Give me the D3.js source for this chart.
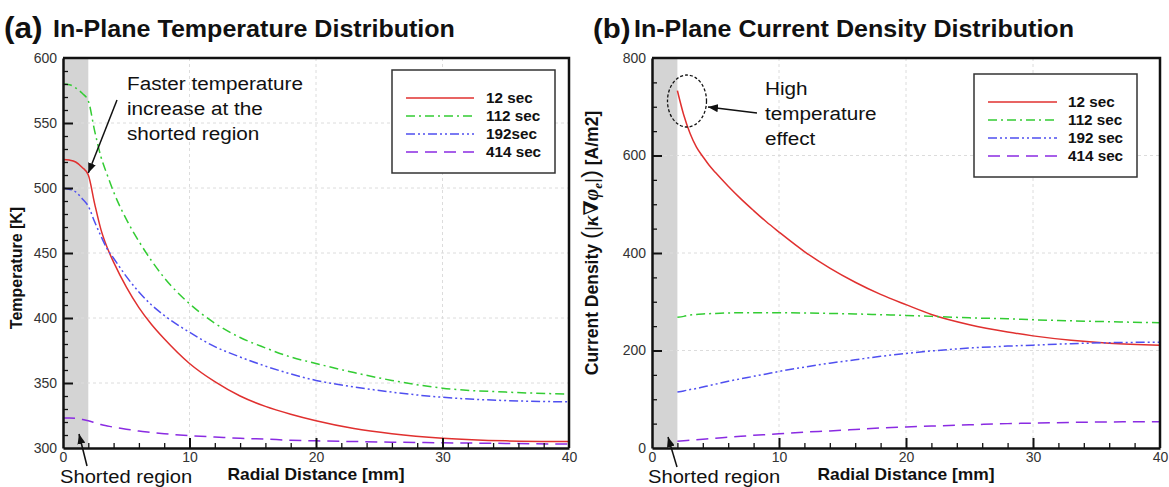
<!DOCTYPE html>
<html>
<head>
<meta charset="utf-8">
<script src="https://cdn.jsdelivr.net/npm/d3@7"></script>
<style>
  html, body { margin: 0; padding: 0; background: #fff; }
  svg { display: block; font-family: Arial, "Liberation Sans", Helvetica, sans-serif; }
</style>
</head>
<body>
<svg id="chart" width="1169" height="487"></svg>
<script>
// ---------------- DATA ----------------
const xTicks = [0, 10, 20, 30, 40];
const tempTicks = [300, 350, 400, 450, 500, 550, 600];
const currentTicks = [0, 200, 400, 600, 800];
const legendA = ["12 sec", "112 sec", "192sec", "414 sec"];
const legendB = ["12 sec", "112 sec", "192 sec", "414 sec"];

// (a) temperature [K] vs radial distance [mm]
const xTemp   = [0, 0.5, 1, 1.5, 2, 2.5, 3, 3.5, 4, 5, 6, 7, 8, 10, 12, 14, 16, 18, 20, 23, 26, 30, 35, 40];
const temp12  = [522, 521.5, 520, 516, 510, 488, 468, 454, 443, 424, 408, 395, 384, 365, 351, 340, 332, 326, 321, 315, 311, 307.5, 305.5, 305];
const temp112 = [580, 579.5, 577, 573, 567, 544, 524, 510, 497, 476, 459, 444, 431, 411, 396, 385, 377, 370, 365, 358, 352, 346, 343, 341.5];
const temp192 = [500, 499, 497, 492, 486, 474, 463, 453, 446, 432, 420, 410, 402, 389, 378, 370, 363, 357, 352, 347, 343, 339, 336.5, 335.5];
const temp414 = [323, 323, 322.8, 322, 321, 319.5, 318, 317, 316, 314.5, 313, 312, 311, 309.5, 308.5, 307.5, 306.8, 306, 305.5, 305, 304.5, 304, 303.5, 303];

// (b) current density [A/m2] vs radial distance [mm]
const xCurrent   = [2, 2.5, 3, 3.5, 4, 4.5, 5, 6, 7, 8, 9, 10, 12, 14, 16, 18, 20, 22, 25, 28, 30, 33, 36, 40];
const current12  = [733, 683, 645, 617, 598, 580, 565, 537, 511, 487, 464, 443, 403, 369, 340, 315, 294, 274, 253, 238, 230, 221, 215, 211];
const current112 = [268, 270, 273, 274, 275, 275.5, 276, 277, 277.5, 277.5, 277.5, 277.5, 277, 276, 275, 273.5, 272, 270, 267, 265, 263, 261, 259, 257];
const current192 = [115, 117, 120, 122, 125, 128, 131, 137, 142, 147, 152, 157, 166, 174, 181, 188, 194, 199, 205, 209, 211, 214, 216, 217];
const current414 = [14, 15, 16, 17, 18, 19, 20, 22, 24, 26, 27.5, 29, 32.5, 35, 38, 41, 43, 45, 47.5, 50, 51, 52.5, 53.5, 54];

// ---------------- STYLE ----------------
const colors = ["#e0302f", "#33cc33", "#4f4ff0", "#8a2be2"];
const dashes = [null, "9,4,2,4", "9,3,2,3,2,3", "12,7"];
const SX = 1.09; // horizontal text stretch of the source picture

const svg = d3.select("#chart");
const defs = svg.append("defs");
defs.append("marker").attr("id", "arrow")
  .attr("viewBox", "0 0 10 8").attr("refX", 10).attr("refY", 4)
  .attr("markerWidth", 10).attr("markerHeight", 8)
  .attr("markerUnits", "userSpaceOnUse").attr("orient", "auto")
  .append("path").attr("d", "M0,0 L10,4 L0,8 Z").attr("fill", "#111");

function txt(x, y, s, size, weight, anchor, fill) {
  return svg.append("text")
    .attr("transform", `translate(${x},${y}) scale(${SX},1)`)
    .attr("font-size", size).attr("font-weight", weight || "normal")
    .attr("text-anchor", anchor || "start").attr("fill", fill || "#111")
    .text(s);
}

function panel(cfg) {
  const x = d3.scaleLinear().domain([0, 40]).range([cfg.left, cfg.right]);
  const y = d3.scaleLinear().domain(cfg.yDomain).range([cfg.bottom, cfg.top]);
  const g = svg.append("g");

  // shaded shorted region
  g.append("rect").attr("x", x(0)).attr("y", cfg.top)
    .attr("width", x(2) - x(0)).attr("height", cfg.bottom - cfg.top).attr("fill", "#d4d4d4");

  // grid
  g.selectAll(".gx").data(xTicks.slice(1, -1)).join("line")
    .attr("x1", d => x(d)).attr("x2", d => x(d)).attr("y1", cfg.top).attr("y2", cfg.bottom)
    .attr("stroke", "#dcdcdc").attr("stroke-dasharray", "3,3").attr("stroke-width", 1);
  g.selectAll(".gy").data(cfg.yTicks.slice(1, -1)).join("line")
    .attr("x1", x(0)).attr("x2", cfg.right).attr("y1", d => y(d)).attr("y2", d => y(d))
    .attr("stroke", "#dcdcdc").attr("stroke-dasharray", "3,3").attr("stroke-width", 1);

  // series
  const line = d3.line().x(d => x(d[0])).y(d => y(d[1])).curve(d3.curveMonotoneX);
  cfg.series.forEach((s, i) => {
    g.append("path").datum(cfg.xs.map((xv, k) => [xv, s[k]]))
      .attr("d", line).attr("fill", "none").attr("stroke", colors[i])
      .attr("stroke-width", 1.5).attr("stroke-dasharray", dashes[i]);
  });

  // minor ticks
  const xMinor = d3.range(0, 40.001, 2).filter(v => v % 10 !== 0);
  const yMinor = d3.range(cfg.yDomain[0], cfg.yDomain[1] + 0.001, cfg.yMinorStep).filter(v => !cfg.yTicks.includes(v));
  g.append("g").attr("transform", `translate(0,${cfg.bottom})`)
    .call(d3.axisBottom(x).tickValues(xMinor).tickSize(-5).tickFormat(""))
    .call(a => a.select(".domain").remove())
    .call(a => a.selectAll("line").attr("stroke", "#111").attr("stroke-width", 1.3));
  g.append("g").attr("transform", `translate(${cfg.left},0)`)
    .call(d3.axisLeft(y).tickValues(yMinor).tickSize(-5).tickFormat(""))
    .call(a => a.select(".domain").remove())
    .call(a => a.selectAll("line").attr("stroke", "#111").attr("stroke-width", 1.3));

  // major axes
  const ax = g.append("g").attr("transform", `translate(0,${cfg.bottom})`)
    .call(d3.axisBottom(x).tickValues(xTicks).tickSize(-10).tickSizeOuter(0).tickPadding(4).tickFormat(d3.format("d")));
  const ay = g.append("g").attr("transform", `translate(${cfg.left},0)`)
    .call(d3.axisLeft(y).tickValues(cfg.yTicks).tickSize(-10).tickSizeOuter(0).tickPadding(6).tickFormat(d3.format("d")));
  [ax, ay].forEach(a => {
    a.select(".domain").attr("stroke", "#111").attr("stroke-width", 2.5);
    a.selectAll("line").attr("stroke", "#111").attr("stroke-width", 2);
    a.selectAll("text").attr("font-size", 14).attr("fill", "#333")
      .attr("font-family", "Arial, 'Liberation Sans', sans-serif");
  });
  ax.selectAll(".tick").filter(d => d === 0 || d === 40).select("line").remove();
  ay.selectAll(".tick").filter((d, i) => i === 0 || i === cfg.yTicks.length - 1).select("line").remove();

  // frame top / right
  g.append("path")
    .attr("d", `M${cfg.left},${cfg.top} H${cfg.right} V${cfg.bottom}`)
    .attr("fill", "none").attr("stroke", "#111").attr("stroke-width", 2.5);

  // legend
  const L = cfg.legend;
  g.append("rect").attr("x", L.x0).attr("y", L.y0).attr("width", L.x1 - L.x0).attr("height", L.y1 - L.y0)
    .attr("fill", "#fff").attr("stroke", "#333").attr("stroke-width", 1.5);
  cfg.labels.forEach((lab, i) => {
    const ly = L.rowY + i * L.rowH;
    g.append("line").attr("x1", L.lx0).attr("x2", L.lx1).attr("y1", ly).attr("y2", ly)
      .attr("stroke", colors[i]).attr("stroke-width", 1.5).attr("stroke-dasharray", dashes[i]);
    txt(L.tx, ly + 5, lab, 14, "bold");
  });

  // x axis label
  txt((cfg.left + cfg.right) / 2, 480, "Radial Distance [mm]", 16, "bold", "middle");

  // shorted region
  txt(cfg.shortX, cfg.shortY, "Shorted region", 18.5, "normal");
  svg.append("line").attr("x1", cfg.shortArrow[0]).attr("y1", cfg.shortArrow[1])
    .attr("x2", cfg.shortArrow[2]).attr("y2", cfg.shortArrow[3])
    .attr("stroke", "#111").attr("stroke-width", 1.5).attr("marker-end", "url(#arrow)");
  return { x, y };
}

// ---------------- PANEL (a) ----------------
const A = panel({
  left: 63, right: 569, top: 58, bottom: 448,
  yDomain: [300, 600], yTicks: tempTicks, yMinorStep: 10,
  xs: xTemp, series: [temp12, temp112, temp192, temp414], labels: legendA,
  legend: { x0: 392, x1: 555, y0: 70, y1: 173, lx0: 406, lx1: 474, tx: 486, rowY: 98, rowH: 18 },
  shortX: 60, shortY: 483, shortArrow: [87, 466, 79, 434]
});

// ---------------- PANEL (b) ----------------
const B = panel({
  left: 652, right: 1160, top: 58, bottom: 448,
  yDomain: [0, 800], yTicks: currentTicks, yMinorStep: 50,
  xs: xCurrent, series: [current12, current112, current192, current414], labels: legendB,
  legend: { x0: 974, x1: 1137, y0: 74, y1: 177, lx0: 988, lx1: 1057, tx: 1068, rowY: 102, rowH: 18 },
  shortX: 648, shortY: 483, shortArrow: [677, 467, 668, 437]
});

// ---------------- TITLES ----------------
txt(4, 38, "(a)", 29, "bold");
txt(53, 37, "In-Plane Temperature Distribution", 23, "bold");
txt(593, 38, "(b)", 27, "bold");
txt(634, 37, "In-Plane Current Density Distribution", 23, "bold");

// ---------------- Y LABELS ----------------
svg.append("text").attr("transform", "translate(22,268) rotate(-90)")
  .attr("text-anchor", "middle").attr("font-size", 16).attr("font-weight", "bold").attr("fill", "#111")
  .text("Temperature [K]");

const yl = svg.append("text").attr("transform", "translate(598,243) rotate(-90)")
  .attr("text-anchor", "middle").attr("font-size", 17.5).attr("font-weight", "bold").attr("fill", "#111");
yl.append("tspan").text("Current Density ");
yl.append("tspan").attr("font-weight", "normal").attr("font-size", 24).text("(");
yl.append("tspan").attr("font-weight", "normal").attr("font-size", 19).text("|");
yl.append("tspan").attr("font-style", "italic").attr("font-family", "'Liberation Serif', 'DejaVu Serif', serif")
  .attr("font-size", 20).text("κ∇φ");
yl.append("tspan").attr("font-style", "italic").attr("font-family", "'Liberation Serif', serif")
  .attr("font-size", 13).attr("dy", 4).text("e");
yl.append("tspan").attr("font-weight", "normal").attr("font-size", 19).attr("dy", -4).text("|");
yl.append("tspan").attr("font-weight", "normal").attr("font-size", 24).text(")");
yl.append("tspan").text(" [A/m2]");

// ---------------- ANNOTATIONS ----------------
["Faster temperature", "increase at the", "shorted region"].forEach((s, i) => txt(127, 90 + i * 25, s, 19));
svg.append("line").attr("x1", 117).attr("y1", 100).attr("x2", A.x(2)).attr("y2", A.y(510) - 2)
  .attr("stroke", "#111").attr("stroke-width", 1.5).attr("marker-end", "url(#arrow)");

["High", "temperature", "effect"].forEach((s, i) => txt(765, 95 + i * 25, s, 19));
svg.append("ellipse").attr("cx", 687).attr("cy", 101).attr("rx", 19.5).attr("ry", 26)
  .attr("fill", "none").attr("stroke", "#111").attr("stroke-width", 1.3).attr("stroke-dasharray", "3,2");
svg.append("line").attr("x1", 757).attr("y1", 113).attr("x2", 708).attr("y2", 107)
  .attr("stroke", "#111").attr("stroke-width", 1.5).attr("marker-end", "url(#arrow)");
</script>
</body>
</html>
